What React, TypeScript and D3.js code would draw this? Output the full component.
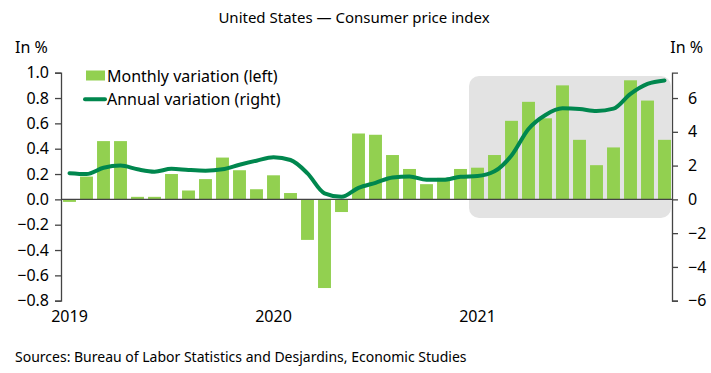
import * as d3 from "d3";
import { useEffect, useRef } from "react";

// months Jan 2019 .. Dec 2021
const months = d3.range(36).map((i) => new Date(2019, i, 1));

const monthly = [
  -0.02, 0.18, 0.46, 0.46, 0.02, 0.02, 0.2, 0.07, 0.16, 0.33, 0.23, 0.08,
  0.19, 0.05, -0.32, -0.7, -0.1, 0.52, 0.51, 0.35, 0.24, 0.12, 0.17, 0.24,
  0.25, 0.35, 0.62, 0.77, 0.64, 0.9, 0.47, 0.27, 0.41, 0.94, 0.78, 0.47,
];

const annual = [
  1.55, 1.5, 1.87, 2.0, 1.78, 1.64, 1.81, 1.74, 1.7, 1.78, 2.05, 2.29,
  2.49, 2.33, 1.54, 0.36, 0.15, 0.68, 0.98, 1.3, 1.36, 1.16, 1.16, 1.34,
  1.38, 1.66, 2.6, 4.17, 5.0, 5.39, 5.35, 5.23, 5.37, 6.25, 6.84, 7.04,
];

const leftTicks = [-0.8, -0.6, -0.4, -0.2, 0.0, 0.2, 0.4, 0.6, 0.8, 1.0];
const rightTicks = [-6, -4, -2, 0, 2, 4, 6];
const yearLabels = ["2019", "2020", "2021"];

const FONT = "'Noto Sans', sans-serif";
const BAR = "#92d050";
const LINE = "#00874e";

const App = () => {
  const svgRef = useRef(null);

  useEffect(() => {
    const width = 711;
    const height = 373;
    const svg = d3.select(svgRef.current).attr("width", width).attr("height", height);
    svg.selectAll("*").remove();

    const x0 = 61;
    const x1 = 673;
    const top = 72.7;
    const bottom = 300.7;

    const x = d3
      .scaleBand()
      .domain(months.map((d, i) => String(i)))
      .range([x0, x1])
      .paddingInner(0.24)
      .paddingOuter(0.12);

    const yL = d3.scaleLinear().domain([-0.8, 1.0]).range([bottom, top]);
    const yR = d3.scaleLinear().domain([-6, 7.5]).range([bottom, top]);

    // title
    svg.append("text")
      .attr("x", 354).attr("y", 23)
      .attr("text-anchor", "middle")
      .attr("font-family", FONT).attr("font-size", 15)
      .text("United States \u2014 Consumer price index");

    svg.append("text")
      .attr("x", 15).attr("y", 53)
      .attr("font-family", FONT).attr("font-size", 16)
      .text("In %");
    svg.append("text")
      .attr("x", 703).attr("y", 53)
      .attr("text-anchor", "end")
      .attr("font-family", FONT).attr("font-size", 16)
      .text("In %");

    // shaded 2021 area
    const shadeX = x("24") - (x.step() - x.bandwidth()) / 2;
    svg.append("rect")
      .attr("x", shadeX).attr("y", 76)
      .attr("width", 671 - shadeX).attr("height", 218 - 76)
      .attr("rx", 10)
      .attr("fill", "#e3e3e3");

    // bars
    svg.selectAll(".bar")
      .data(monthly)
      .join("rect")
      .attr("class", "bar")
      .attr("x", (d, i) => x(String(i)))
      .attr("width", x.bandwidth())
      .attr("y", (d) => yL(Math.max(0, d)))
      .attr("height", (d) => Math.abs(yL(d) - yL(0)))
      .attr("fill", BAR);

    // zero line
    svg.append("line")
      .attr("x1", x0).attr("x2", 672)
      .attr("y1", yL(0)).attr("y2", yL(0))
      .attr("stroke", "#444").attr("stroke-width", 1.3);

    // annual line
    const line = d3.line()
      .x((d, i) => x(String(i)) + x.bandwidth() / 2)
      .y((d) => yR(d))
      .curve(d3.curveMonotoneX);
    svg.append("path")
      .datum(annual)
      .attr("fill", "none")
      .attr("stroke", LINE)
      .attr("stroke-width", 4)
      .attr("stroke-linecap", "round")
      .attr("d", line);

    // left axis
    const gL = svg.append("g")
      .attr("transform", `translate(${x0},0)`)
      .call(d3.axisLeft(yL).tickValues(leftTicks).tickFormat(d3.format(".1f")).tickSize(6).tickPadding(6));
    gL.select(".domain").attr("stroke", "#444").attr("stroke-width", 1.3);
    gL.selectAll(".tick line").attr("stroke", "#444").attr("stroke-width", 1.3);
    gL.selectAll("text").attr("font-family", FONT).attr("font-size", 16).attr("fill", "#000");

    // right axis
    const gR = svg.append("g")
      .attr("transform", `translate(672,0)`)
      .call(d3.axisRight(yR).tickValues(rightTicks).tickSize(6).tickPadding(10));
    gR.select(".domain").attr("stroke", "#444").attr("stroke-width", 1.3);
    gR.selectAll(".tick line").attr("stroke", "#444").attr("stroke-width", 1.3);
    gR.selectAll("text").attr("font-family", FONT).attr("font-size", 16).attr("fill", "#000");

    // year labels
    svg.selectAll(".year")
      .data(yearLabels)
      .join("text")
      .attr("class", "year")
      .attr("x", (d, i) => x(String(i * 12)) + x.bandwidth() / 2)
      .attr("y", 322)
      .attr("text-anchor", "middle")
      .attr("font-family", FONT).attr("font-size", 16)
      .text((d) => d);

    // legend
    svg.append("rect")
      .attr("x", 86).attr("y", 70.5)
      .attr("width", 19).attr("height", 10)
      .attr("fill", BAR);
    svg.append("text")
      .attr("x", 107).attr("y", 81.5)
      .attr("font-family", FONT).attr("font-size", 16)
      .text("Monthly variation (left)");
    svg.append("line")
      .attr("x1", 85).attr("x2", 105)
      .attr("y1", 99.3).attr("y2", 99.3)
      .attr("stroke", LINE).attr("stroke-width", 4).attr("stroke-linecap", "round");
    svg.append("text")
      .attr("x", 107).attr("y", 105)
      .attr("font-family", FONT).attr("font-size", 16)
      .text("Annual variation (right)");

    // source
    svg.append("text")
      .attr("x", 15).attr("y", 362)
      .attr("font-family", FONT).attr("font-size", 14)
      .text("Sources: Bureau of Labor Statistics and Desjardins, Economic Studies");
  }, []);

  return <svg ref={svgRef} style={{ position: "absolute", left: 0, top: 0 }} />;
};

export default App;
